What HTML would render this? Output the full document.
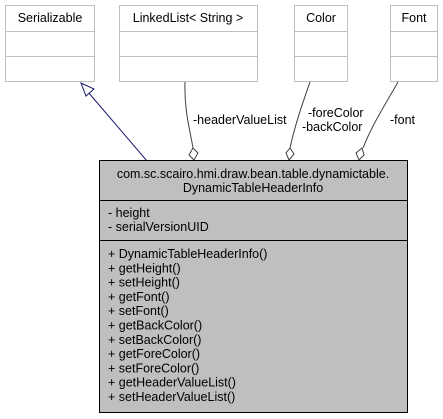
<!DOCTYPE html>
<html><head><meta charset="utf-8"><style>
html,body{margin:0;padding:0;background:#fff;}
svg{display:block;}
text{font-family:"Liberation Sans",Arial,sans-serif;font-size:12.5px;fill:#000;}
</style></head><body>
<svg width="443" height="419" viewBox="0 0 443 419" xmlns="http://www.w3.org/2000/svg">
<g fill="#fff" stroke="#bfbfbf" stroke-width="1">
<rect x="5.5" y="5.5" width="89" height="76"/><line x1="5.5" y1="31.5" x2="94.5" y2="31.5"/><line x1="5.5" y1="56.5" x2="94.5" y2="56.5"/>
<rect x="119.5" y="5.5" width="138" height="76"/><line x1="119.5" y1="31.5" x2="257.5" y2="31.5"/><line x1="119.5" y1="56.5" x2="257.5" y2="56.5"/>
<rect x="294.5" y="5.5" width="53" height="76"/><line x1="294.5" y1="31.5" x2="347.5" y2="31.5"/><line x1="294.5" y1="56.5" x2="347.5" y2="56.5"/>
<rect x="390.5" y="5.5" width="47" height="76"/><line x1="390.5" y1="31.5" x2="437.5" y2="31.5"/><line x1="390.5" y1="56.5" x2="437.5" y2="56.5"/>
</g>
<text x="50" y="22" text-anchor="middle">Serializable</text>
<text x="188" y="22" text-anchor="middle">LinkedList&lt; String &gt;</text>
<text x="321" y="22" text-anchor="middle">Color</text>
<text x="414" y="22" text-anchor="middle">Font</text>
<line x1="147" y1="161" x2="88" y2="92" stroke="#191970" stroke-width="1"/>
<polygon points="81,83 86,96 94,89" fill="#fff" stroke="#191970"/>
<g fill="none" stroke="#404040" stroke-width="1">
<path d="M185,82 C184,110 190,130 193,148"/>
<path d="M310,82 C302,105 295,125 290,148"/>
<path d="M398,82 C385,105 372,125 363,148"/>
</g>
<g fill="#fff" stroke="#404040">
<polygon points="193,148 198,153 194,160 189,155"/>
<polygon points="290,148 294,154 289,160 286,153"/>
<polygon points="362,148 364,155 359,160 356,153"/>
</g>
<text x="193" y="124">-headerValueList</text>
<text x="308" y="117">-foreColor</text>
<text x="302" y="131">-backColor</text>
<text x="390" y="124">-font</text>
<rect x="99.5" y="160.5" width="308" height="252" fill="#bfbfbf" stroke="#000"/>
<line x1="99.5" y1="200.5" x2="407.5" y2="200.5" stroke="#000"/>
<line x1="99.5" y1="240.5" x2="407.5" y2="240.5" stroke="#000"/>
<text x="253" y="178" text-anchor="middle">com.sc.scairo.hmi.draw.bean.table.dynamictable.</text>
<text x="253" y="192" text-anchor="middle">DynamicTableHeaderInfo</text>
<text x="108" y="217">- height</text>
<text x="108" y="231">- serialVersionUID</text>
<g>
<text x="108" y="258">+ DynamicTableHeaderInfo()</text>
<text x="108" y="272.3">+ getHeight()</text>
<text x="108" y="286.6">+ setHeight()</text>
<text x="108" y="300.9">+ getFont()</text>
<text x="108" y="315.2">+ setFont()</text>
<text x="108" y="329.5">+ getBackColor()</text>
<text x="108" y="343.8">+ setBackColor()</text>
<text x="108" y="358.1">+ getForeColor()</text>
<text x="108" y="372.4">+ setForeColor()</text>
<text x="108" y="386.7">+ getHeaderValueList()</text>
<text x="108" y="401">+ setHeaderValueList()</text>
</g>
</svg>
</body></html>
